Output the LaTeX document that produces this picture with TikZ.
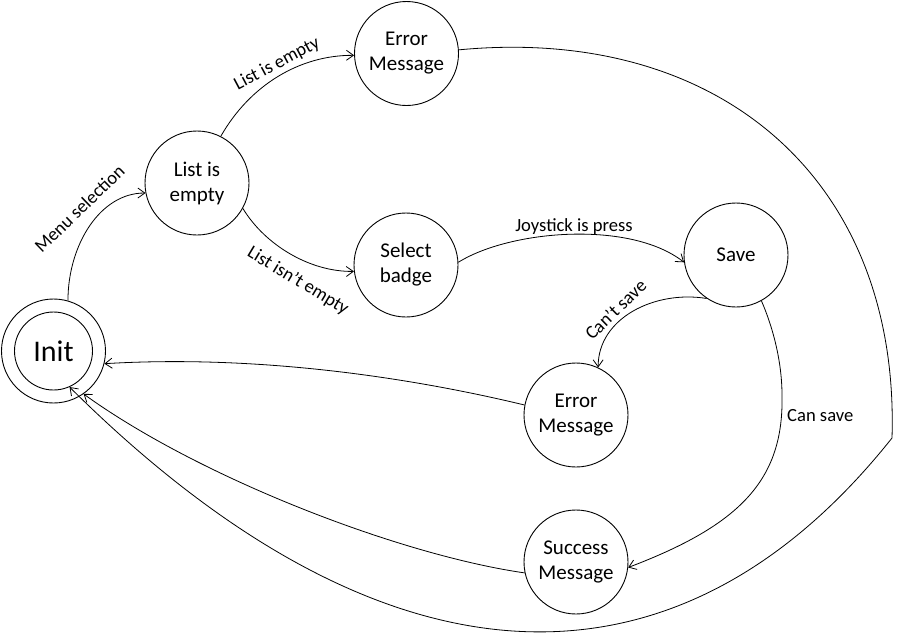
\documentclass[tikz,border=0pt]{standalone}
\usepackage{fontspec}
\setmainfont{Carlito}
\usetikzlibrary{arrows.meta}
\begin{document}
\begin{tikzpicture}[x=1pt,y=-1pt,
  state/.style={circle,draw,line width=0.9pt,minimum size=104pt,inner sep=0pt,align=center,font=\fontsize{21}{25}\selectfont},
  edge/.style={line width=0.8pt,-{Straight Barb[length=7pt,width=10pt]}},
  lab/.style={font=\fontsize{18.6}{22}\selectfont,inner sep=1pt}]
\useasboundingbox (0,0) rectangle (898,633);
% states
\node[state] (init) at (53.5,351) {};
\node[circle,draw,line width=0.9pt,minimum size=78pt,inner sep=0pt,font=\fontsize{30}{36}\selectfont] (initin) at (53.5,351) {Init};
\node[state] (list) at (197,183) {List is\\empty};
\node[state] (errtop) at (406.5,53.5) {Error\\Message};
\node[state] (select) at (406,265) {Select\\badge};
\node[state] (save) at (736,255) {Save};
\node[state] (errmid) at (576,415) {Error\\Message};
\node[state] (success) at (576,562) {Success\\Message};
\coordinate (k) at (892,438);
\coordinate (m) at (782,395);
% connectors
\draw[edge] (init.74) .. controls (68,245) and (100,193) .. (list.191);
\draw[edge] (list.63) .. controls (250,85) and (300,55) .. (errtop.182);
\draw[edge] (list.331) .. controls (265,245) and (310,272) .. (select.187);
\draw[edge] (select.3) .. controls (510,230) and (630,220) .. (save.188);
\draw[edge] (save.236) .. controls (655,290) and (598,318) .. (errmid.65);
\draw[edge] (save.299) .. controls (772,325) and (782,360) .. (m) .. controls (784,480) and (740,525) .. (success.354);
\draw[edge] (errtop.4) .. controls (720,25) and (900,180) .. (k) .. controls (675,711) and (382,697) .. (initin.294);
\draw[edge] (errmid.169) .. controls (400,375) and (250,355) .. (init.346);
\draw[edge] (success.192) .. controls (400,555) and (200,478) .. (init.305);
% labels
\node[lab,rotate=44] (lmenu) at (79.5,208.5) {Menu selection};
\node[lab,rotate=28] (lempty) at (277,64) {List is empty};
\node[lab,rotate=-31] (lnotempty) at (298,281) {List isn’t empty};
\node[lab,anchor=base] (ljoy) at (574,231) {Joystick is press};
\node[lab,rotate=44] (lcant) at (615.5,309.5) {Can’t save};
\node[lab,anchor=west] (lcan) at (786,416) {Can save};
\end{tikzpicture}
\end{document}
